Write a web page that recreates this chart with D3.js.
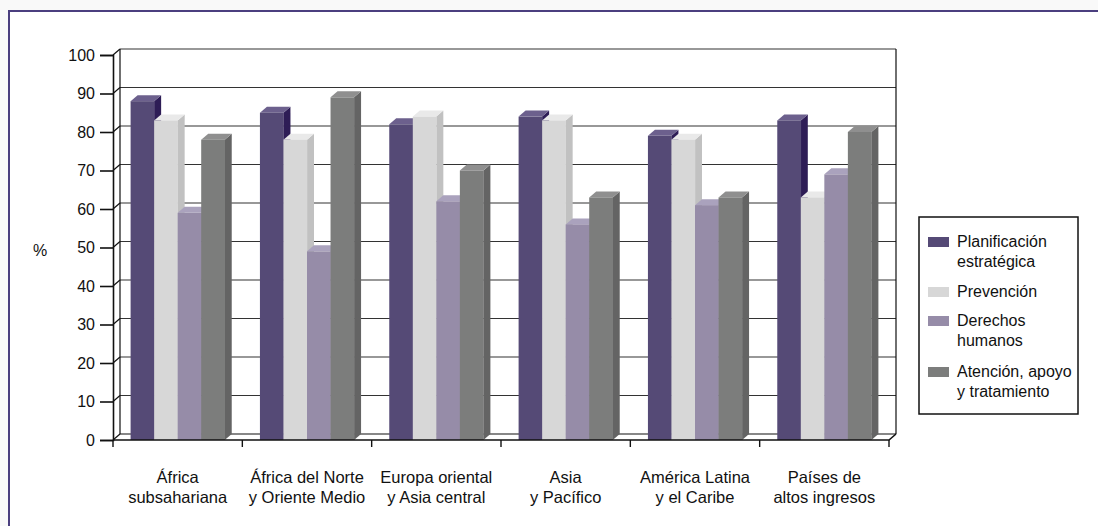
<!DOCTYPE html>
<html>
<head>
<meta charset="utf-8">
<script src="https://cdn.jsdelivr.net/npm/d3@7"></script>
<style>
  body { margin: 0; background: #f9f9f9; }
  text { font-family: "Liberation Sans", Arial, sans-serif; fill: #111; }
</style>
</head>
<body>
<svg id="chart"></svg>
<script>
// Data
const categories = [
    ["África", "subsahariana"],
    ["África del Norte", "y Oriente Medio"],
    ["Europa oriental", "y Asia central"],
    ["Asia", "y Pacífico"],
    ["América Latina", "y el Caribe"],
    ["Países de", "altos ingresos"]
];
const seriesNames = [
    ["Planificación", "estratégica"],
    ["Prevención"],
    ["Derechos", "humanos"],
    ["Atención, apoyo", "y tratamiento"]
];
const planificacion = [88, 85, 82, 84, 79, 83];
const prevencion = [83, 78, 84, 83, 78, 63];
const derechos = [59, 49, 62, 56, 61, 69];
const atencion = [78, 89, 70, 63, 63, 80];
const yTicks = [0, 10, 20, 30, 40, 50, 60, 70, 80, 90, 100];

const seriesValues = [planificacion, prevencion, derechos, atencion];
const colors = [
    { front: "#554a76", side: "#2e1d56", top: "#6c608d" },
    { front: "#d7d7d7", side: "#c1c1c1", top: "#e9e9e9" },
    { front: "#968ca8", side: "#7f7694", top: "#aaa2bd" },
    { front: "#7c7d7c", side: "#646464", top: "#8f8f8f" }
];

const W = 1098, H = 526;
const dx = 7, dy = -6;   // 3D depth offset

const svg = d3.select("#chart").attr("width", W).attr("height", H);

// Frame
svg.append("rect").attr("x", 0).attr("y", 0).attr("width", W).attr("height", H).attr("fill", "#f9f9f9");
svg.append("rect").attr("x", 8).attr("y", 10).attr("width", W).attr("height", H).attr("fill", "#fff");
svg.append("path")
    .attr("d", `M9,${H} V11 H${W}`)
    .attr("fill", "none").attr("stroke", "#4b3f7f").attr("stroke-width", 2);

// Scales
const x = d3.scaleBand()
    .domain(d3.range(categories.length))
    .range([113, 889]);

const y = d3.scaleLinear()
    .domain([0, 100])
    .range([440, 55]);

const inner = 17.6;
const xSub = d3.scaleBand()
    .domain(d3.range(seriesValues.length))
    .range([inner, x.bandwidth() - inner]);

// Back wall gridlines
const xLeft = x.range()[0], xRight = x.range()[1];
svg.append("g").selectAll("line")
    .data(yTicks)
    .join("line")
    .attr("x1", xLeft + dx).attr("x2", xRight + dx)
    .attr("y1", d => y(d) + dy).attr("y2", d => y(d) + dy)
    .attr("stroke", d => d === 0 ? "#111" : "#333")
    .attr("stroke-width", 1.2);

// Back wall edges
svg.append("path")
    .attr("d", `M${xLeft + dx},${y(100) + dy} V${y(0) + dy} M${xRight + dx},${y(100) + dy} V${y(0) + dy}`)
    .attr("stroke", "#111").attr("stroke-width", 1.2).attr("fill", "none");

// Depth ticks from front axis to back wall
svg.append("g").selectAll("line")
    .data(yTicks)
    .join("line")
    .attr("x1", xLeft).attr("x2", xLeft + dx)
    .attr("y1", d => y(d)).attr("y2", d => y(d) + dy)
    .attr("stroke", "#111").attr("stroke-width", 1.2);

// Bars
const bars = [];
categories.forEach((c, i) => {
    seriesValues.forEach((vals, s) => {
        bars.push({ cat: i, s: s, value: vals[i] });
    });
});

const barG = svg.append("g").selectAll("g")
    .data(bars)
    .join("g");

barG.each(function(d) {
    const g = d3.select(this);
    const x0 = x(d.cat) + xSub(d.s);
    const x1 = x0 + xSub.bandwidth();
    const yt = y(d.value), yb = y(0);
    const col = colors[d.s];
    g.append("polygon")
        .attr("points", [[x1, yt], [x1 + dx, yt + dy], [x1 + dx, yb + dy], [x1, yb]].join(" "))
        .attr("fill", col.side);
    g.append("polygon")
        .attr("points", [[x0, yt], [x0 + dx, yt + dy], [x1 + dx, yt + dy], [x1, yt]].join(" "))
        .attr("fill", col.top);
    g.append("rect")
        .attr("x", x0).attr("y", yt)
        .attr("width", xSub.bandwidth() + 0.3)
        .attr("height", yb - yt)
        .attr("fill", col.front);
});

// Front floor edge and right depth edge
svg.append("path")
    .attr("d", `M${xLeft},${y(0)} H${xRight} L${xRight + dx},${y(0) + dy}`)
    .attr("stroke", "#111").attr("stroke-width", 1.6).attr("fill", "none");

// Y axis
svg.append("g")
    .attr("transform", `translate(${xLeft},0)`)
    .call(d3.axisLeft(y).tickValues(yTicks).tickSize(13).tickPadding(5))
    .call(g => g.select(".domain").attr("stroke", "#111").attr("stroke-width", 1.6))
    .call(g => g.selectAll(".tick line").attr("stroke", "#111").attr("stroke-width", 1.6))
    .call(g => g.selectAll("text").attr("font-size", 16).attr("fill", "#111")
        .attr("font-family", "Liberation Sans, Arial, sans-serif"));

// X axis ticks (category boundaries)
svg.append("g").selectAll("line")
    .data(d3.range(categories.length + 1))
    .join("line")
    .attr("x1", i => xLeft + i * x.step()).attr("x2", i => xLeft + i * x.step())
    .attr("y1", y(0)).attr("y2", y(0) + 7)
    .attr("stroke", "#111").attr("stroke-width", 1.4);

// Category labels
const catLabels = svg.append("g").selectAll("text")
    .data(categories)
    .join("text")
    .attr("x", (d, i) => x(i) + x.bandwidth() / 2)
    .attr("y", 483)
    .attr("text-anchor", "middle")
    .attr("font-size", 16.5);
catLabels.selectAll("tspan")
    .data(d => d)
    .join("tspan")
    .attr("x", function() { return d3.select(this.parentNode).attr("x"); })
    .attr("dy", (d, j) => j === 0 ? 0 : 20)
    .text(d => d);

// Y axis label
svg.append("text")
    .attr("x", 40).attr("y", 256)
    .attr("text-anchor", "middle")
    .attr("font-size", 16)
    .text("%");

// Legend
const legend = svg.append("g");
legend.append("rect")
    .attr("x", 919).attr("y", 217)
    .attr("width", 159).attr("height", 197)
    .attr("fill", "#fff").attr("stroke", "#111").attr("stroke-width", 1.5);

const legendY = [247, 297, 326, 377];
seriesNames.forEach((name, s) => {
    legend.append("rect")
        .attr("x", 928).attr("y", legendY[s] - 10)
        .attr("width", 21).attr("height", 10)
        .attr("fill", colors[s].front);
    const t = legend.append("text")
        .attr("x", 957).attr("y", legendY[s])
        .attr("font-size", 16);
    name.forEach((line, j) => {
        t.append("tspan").attr("x", 957).attr("dy", j === 0 ? 0 : 20).text(line);
    });
});
</script>
</body>
</html>
